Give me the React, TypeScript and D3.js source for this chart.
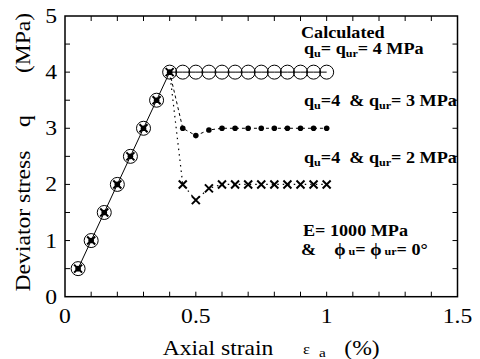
import React from "react";
import * as d3 from "d3";

// Axial strain (%) at each calculated step
const strain = [0.05, 0.1, 0.15, 0.2, 0.25, 0.3, 0.35, 0.4, 0.45, 0.5, 0.55, 0.6, 0.65, 0.7, 0.75, 0.8, 0.85, 0.9, 0.95, 1.0];
// Deviator stress q (MPa) for the three residual strengths
const qEqual = [0.5, 1, 1.5, 2, 2.5, 3, 3.5, 4, 4, 4, 4, 4, 4, 4, 4, 4, 4, 4, 4, 4];
const qRes3 = [0.5, 1, 1.5, 2, 2.5, 3, 3.5, 4, 3.0, 2.87, 2.97, 3.0, 3.0, 3.0, 3.0, 3.0, 3.0, 3.0, 3.0, 3.0];
const qRes2 = [0.5, 1, 1.5, 2, 2.5, 3, 3.5, 4, 2.0, 1.72, 1.93, 2.0, 2.0, 2.0, 2.0, 2.0, 2.0, 2.0, 2.0, 2.0];

const xTickLabels = [0, 0.5, 1, 1.5];
const yTickLabels = [0, 1, 2, 3, 4, 5];

const W = 480;
const H = 359;
const left = 65;
const right = 457.5;
const top = 16;
const bottom = 296.7;

const FONT = "Liberation Serif";

export default function App() {
  const x = d3.scaleLinear().domain([0, 1.5]).range([left, right]);
  const y = d3.scaleLinear().domain([0, 5]).range([bottom, top]);

  const ptsOf = (q: number[]) => strain.map((s, i) => [s, q[i]] as [number, number]);
  const line = d3
    .line<[number, number]>()
    .x((d) => x(d[0]))
    .y((d) => y(d[1]));

  const ptsA = ptsOf(qEqual);
  const ptsB = ptsOf(qRes3);
  const ptsC = ptsOf(qRes2);
  const peak = 7;

  const minorX = d3.range(1, 15).map((i) => i / 10);
  const minorY = d3.range(1, 10).map((i) => i / 2);
  const tl = 5;

  const sx = 1.18;
  const bx = 1.1;

  return (
    <svg width={W} height={H} style={{ position: "absolute", left: 0, top: 0 }}>
      <rect x={0} y={0} width={W} height={H} fill="white" />

      {/* ticks */}
      <g stroke="black" strokeWidth={1}>
        {minorX.map((v) => (
          <g key={"tx" + v}>
            <line x1={x(v)} x2={x(v)} y1={bottom} y2={bottom - tl} />
            <line x1={x(v)} x2={x(v)} y1={top} y2={top + tl} />
          </g>
        ))}
        {minorY.map((v) => (
          <g key={"ty" + v}>
            <line x1={left} x2={left + tl} y1={y(v)} y2={y(v)} />
            <line x1={right} x2={right - tl} y1={y(v)} y2={y(v)} />
          </g>
        ))}
      </g>

      {/* curves */}
      <path d={line(ptsA) ?? ""} fill="none" stroke="black" strokeWidth={1} />
      <path d={line(ptsB.slice(peak)) ?? ""} fill="none" stroke="black" strokeWidth={1} strokeDasharray="3,3" />
      <path d={line(ptsC.slice(peak)) ?? ""} fill="none" stroke="black" strokeWidth={1.2} strokeDasharray="1.5,4" />

      {/* markers */}
      {ptsA.map((d, i) => (
        <circle key={"a" + i} cx={x(d[0])} cy={y(d[1])} r={7} fill="none" stroke="black" strokeWidth={1} />
      ))}
      {ptsB.map((d, i) => (
        <circle key={"b" + i} cx={x(d[0])} cy={y(d[1])} r={2.8} fill="black" />
      ))}
      {ptsC.map((d, i) => {
        const cx = x(d[0]);
        const cy = y(d[1]);
        const s = 4;
        return (
          <path
            key={"c" + i}
            d={`M${cx - s},${cy - s}L${cx + s},${cy + s}M${cx - s},${cy + s}L${cx + s},${cy - s}`}
            stroke="black"
            strokeWidth={2}
          />
        );
      })}

      {/* frame */}
      <rect x={left} y={top} width={right - left} height={bottom - top} fill="none" stroke="black" strokeWidth={1.5} />

      {/* tick labels */}
      <g fontFamily={FONT} fontSize={20} fill="black">
        {xTickLabels.map((v) => (
          <text key={"xl" + v} fontFamily={FONT} transform={`translate(${x(v)},323) scale(${sx},1)`} textAnchor="middle">
            {String(v)}
          </text>
        ))}
        {yTickLabels.map((v) => (
          <text key={"yl" + v} fontFamily={FONT} transform={`translate(57,${y(v) + 7}) scale(${sx},1)`} textAnchor="end">
            {String(v)}
          </text>
        ))}
      </g>

      {/* axis titles */}
      <g fill="black" fontFamily={FONT}>
        <text fontFamily={FONT} transform={`translate(218,355) scale(${sx},1)`} textAnchor="middle" fontSize={20}>
          Axial strain
        </text>
        <text fontFamily={FONT} transform={`translate(303,354) scale(${sx},1)`} fontSize={14}>
          ε
        </text>
        <text fontFamily={FONT} transform={`translate(319,357) scale(${sx},1)`} fontSize={13}>
          a
        </text>
        <text fontFamily={FONT} transform={`translate(362,355) scale(${sx},1)`} textAnchor="middle" fontSize={20}>
          (%)
        </text>

        <text fontFamily={FONT} transform={`translate(30,221) rotate(-90) scale(${sx},1)`} textAnchor="middle" fontSize={20}>
          Deviator stress
        </text>
        <text fontFamily={FONT} transform={`translate(30,121) rotate(-90) scale(${sx},1)`} textAnchor="middle" fontSize={20}>
          q
        </text>
        <text fontFamily={FONT} transform={`translate(30,43) rotate(-90) scale(${sx},1)`} textAnchor="middle" fontSize={20}>
          (MPa)
        </text>
      </g>

      {/* annotations */}
      <g fontWeight="bold" fill="black" fontSize={16.5} fontFamily={FONT}>
        <text fontFamily={FONT} transform={`translate(301,38) scale(${bx},1)`}>Calculated</text>
        <text fontFamily={FONT} transform={`translate(304,54) scale(${bx},1)`}>
          q<tspan fontSize={11} dy={3}>u</tspan>
          <tspan dy={-3}>= q</tspan>
          <tspan fontSize={11} dy={3}>ur</tspan>
          <tspan dy={-3}>= 4 MPa</tspan>
        </text>
        <text fontFamily={FONT} style={{ whiteSpace: "pre" }} transform={`translate(304,106) scale(${bx},1)`}>
          q<tspan fontSize={11} dy={3}>u</tspan>
          <tspan dy={-3}>{"=4  & q"}</tspan>
          <tspan fontSize={11} dy={3}>ur</tspan>
          <tspan dy={-3}>= 3 MPa</tspan>
        </text>
        <text fontFamily={FONT} style={{ whiteSpace: "pre" }} transform={`translate(304,163) scale(${bx},1)`}>
          q<tspan fontSize={11} dy={3}>u</tspan>
          <tspan dy={-3}>{"=4  & q"}</tspan>
          <tspan fontSize={11} dy={3}>ur</tspan>
          <tspan dy={-3}>= 2 MPa</tspan>
        </text>
        <text fontFamily={FONT} transform={`translate(303,236) scale(${bx},1)`}>E= 1000 MPa</text>
        <text fontFamily={FONT} style={{ whiteSpace: "pre" }} transform={`translate(301,255) scale(${bx},1)`}>
          {"&    ϕ"}
          <tspan fontSize={11}> u</tspan>
          <tspan>= ϕ</tspan>
          <tspan fontSize={11}> ur</tspan>
          <tspan>= 0°</tspan>
        </text>
      </g>
    </svg>
  );
}
